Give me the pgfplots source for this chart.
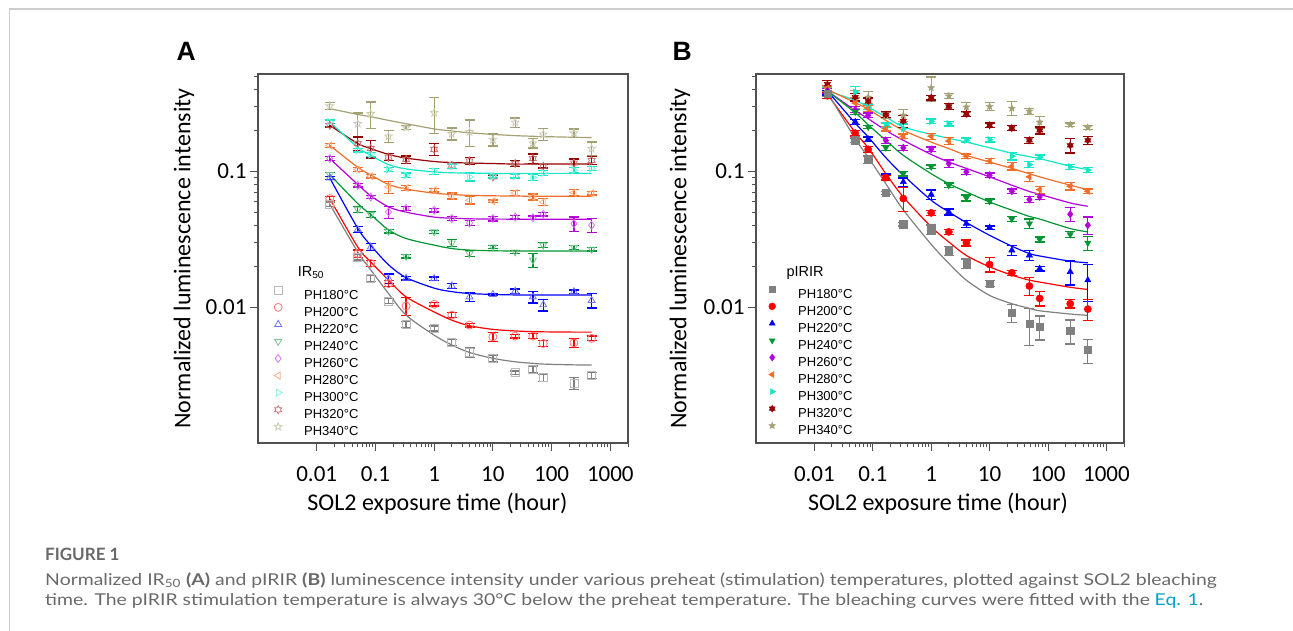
\documentclass[border=0pt]{standalone}
\usepackage{fontspec}
\setmainfont{Liberation Sans}
\newfontfamily\carlito{Carlito}
\newfontfamily\capfont[FakeStretch=1.19]{Lato}
\newfontfamily\capbold{Lato}
\usepackage{pgfplots}
\pgfplotsset{compat=1.18}
\usetikzlibrary{plotmarks}

\definecolor{c180}{RGB}{128,128,128}
\definecolor{c200}{RGB}{255,0,0}
\definecolor{c220}{RGB}{0,0,255}
\definecolor{c240}{RGB}{0,150,50}
\definecolor{c260}{RGB}{180,0,220}
\definecolor{c280}{RGB}{240,110,40}
\definecolor{c300}{RGB}{20,230,200}
\definecolor{c320}{RGB}{150,0,0}
\definecolor{c340}{RGB}{165,160,115}
\definecolor{axisgray}{RGB}{80,80,80}
\definecolor{framegray}{RGB}{205,205,205}
\definecolor{capgray}{RGB}{105,105,105}
\definecolor{eqblue}{RGB}{0,160,200}

\pgfdeclareplotmark{pstar}{%
  \pgfpathmoveto{\pgfpointpolar{90}{\pgfplotmarksize}}%
  \pgfpathlineto{\pgfpointscale{0.42}{\pgfpointpolar{126}{\pgfplotmarksize}}}%
  \pgfpathlineto{\pgfpointpolar{162}{\pgfplotmarksize}}%
  \pgfpathlineto{\pgfpointscale{0.42}{\pgfpointpolar{198}{\pgfplotmarksize}}}%
  \pgfpathlineto{\pgfpointpolar{234}{\pgfplotmarksize}}%
  \pgfpathlineto{\pgfpointscale{0.42}{\pgfpointpolar{270}{\pgfplotmarksize}}}%
  \pgfpathlineto{\pgfpointpolar{306}{\pgfplotmarksize}}%
  \pgfpathlineto{\pgfpointscale{0.42}{\pgfpointpolar{342}{\pgfplotmarksize}}}%
  \pgfpathlineto{\pgfpointpolar{18}{\pgfplotmarksize}}%
  \pgfpathlineto{\pgfpointscale{0.42}{\pgfpointpolar{54}{\pgfplotmarksize}}}%
  \pgfpathclose\pgfusepathqstroke}
\pgfdeclareplotmark{pstar*}{%
  \pgfpathmoveto{\pgfpointpolar{90}{\pgfplotmarksize}}%
  \pgfpathlineto{\pgfpointscale{0.42}{\pgfpointpolar{126}{\pgfplotmarksize}}}%
  \pgfpathlineto{\pgfpointpolar{162}{\pgfplotmarksize}}%
  \pgfpathlineto{\pgfpointscale{0.42}{\pgfpointpolar{198}{\pgfplotmarksize}}}%
  \pgfpathlineto{\pgfpointpolar{234}{\pgfplotmarksize}}%
  \pgfpathlineto{\pgfpointscale{0.42}{\pgfpointpolar{270}{\pgfplotmarksize}}}%
  \pgfpathlineto{\pgfpointpolar{306}{\pgfplotmarksize}}%
  \pgfpathlineto{\pgfpointscale{0.42}{\pgfpointpolar{342}{\pgfplotmarksize}}}%
  \pgfpathlineto{\pgfpointpolar{18}{\pgfplotmarksize}}%
  \pgfpathlineto{\pgfpointscale{0.42}{\pgfpointpolar{54}{\pgfplotmarksize}}}%
  \pgfpathclose\pgfusepathqfillstroke}
\pgfdeclareplotmark{hstar}{%
  \pgfpathmoveto{\pgfpointpolar{90}{\pgfplotmarksize}}%
  \pgfpathlineto{\pgfpointscale{0.577}{\pgfpointpolar{120}{\pgfplotmarksize}}}%
  \pgfpathlineto{\pgfpointpolar{150}{\pgfplotmarksize}}%
  \pgfpathlineto{\pgfpointscale{0.577}{\pgfpointpolar{180}{\pgfplotmarksize}}}%
  \pgfpathlineto{\pgfpointpolar{210}{\pgfplotmarksize}}%
  \pgfpathlineto{\pgfpointscale{0.577}{\pgfpointpolar{240}{\pgfplotmarksize}}}%
  \pgfpathlineto{\pgfpointpolar{270}{\pgfplotmarksize}}%
  \pgfpathlineto{\pgfpointscale{0.577}{\pgfpointpolar{300}{\pgfplotmarksize}}}%
  \pgfpathlineto{\pgfpointpolar{330}{\pgfplotmarksize}}%
  \pgfpathlineto{\pgfpointscale{0.577}{\pgfpointpolar{0}{\pgfplotmarksize}}}%
  \pgfpathlineto{\pgfpointpolar{30}{\pgfplotmarksize}}%
  \pgfpathlineto{\pgfpointscale{0.577}{\pgfpointpolar{60}{\pgfplotmarksize}}}%
  \pgfpathclose\pgfusepathqstroke}
\pgfdeclareplotmark{hstar*}{%
  \pgfpathmoveto{\pgfpointpolar{90}{\pgfplotmarksize}}%
  \pgfpathlineto{\pgfpointscale{0.577}{\pgfpointpolar{120}{\pgfplotmarksize}}}%
  \pgfpathlineto{\pgfpointpolar{150}{\pgfplotmarksize}}%
  \pgfpathlineto{\pgfpointscale{0.577}{\pgfpointpolar{180}{\pgfplotmarksize}}}%
  \pgfpathlineto{\pgfpointpolar{210}{\pgfplotmarksize}}%
  \pgfpathlineto{\pgfpointscale{0.577}{\pgfpointpolar{240}{\pgfplotmarksize}}}%
  \pgfpathlineto{\pgfpointpolar{270}{\pgfplotmarksize}}%
  \pgfpathlineto{\pgfpointscale{0.577}{\pgfpointpolar{300}{\pgfplotmarksize}}}%
  \pgfpathlineto{\pgfpointpolar{330}{\pgfplotmarksize}}%
  \pgfpathlineto{\pgfpointscale{0.577}{\pgfpointpolar{0}{\pgfplotmarksize}}}%
  \pgfpathlineto{\pgfpointpolar{30}{\pgfplotmarksize}}%
  \pgfpathlineto{\pgfpointscale{0.577}{\pgfpointpolar{60}{\pgfplotmarksize}}}%
  \pgfpathclose\pgfusepathqfillstroke}

% ---------- data: x = hours, y = normalized intensity, e = relative error, f = fitted curve
\pgfplotstableread{
x y e f
0.0167 0.0572 0.04 0.0572
0.05 0.0234 0.05 0.0255
0.0833 0.0163 0.05 0.0188
0.167 0.0111 0.04 0.0126
0.333 0.00747 0.05 0.00873
1 0.00697 0.04 0.00622
2 0.0055 0.05 0.00526
4 0.00464 0.08 0.00464
10 0.0042 0.06 0.0042
24 0.00329 0.03 0.00396
48 0.00348 0.06 0.00386
72 0.00302 0.06 0.00381
240 0.00275 0.1 0.00376
480 0.00313 0.05 0.00375
}\Aa
\pgfplotstableread{
x y e f
0.0167 0.063 0.04 0.063
0.05 0.0248 0.06 0.0277
0.0833 0.021 0.05 0.0215
0.167 0.0149 0.05 0.0158
0.333 0.0102 0.15 0.0119
1 0.0105 0.03 0.00922
2 0.00873 0.04 0.00802
4 0.00738 0.03 0.0073
10 0.00605 0.08 0.00686
24 0.00612 0.03 0.00668
48 0.00612 0.04 0.0066
72 0.0054 0.05 0.00658
240 0.00546 0.08 0.00655
480 0.00589 0.04 0.00655
}\Ab
\pgfplotstableread{
x y e f
0.0167 0.0893 0.03 0.0893
0.05 0.0373 0.05 0.038
0.0833 0.0277 0.06 0.0285
0.167 0.0162 0.08 0.0205
0.333 0.0163 0.03 0.0165
1 0.0162 0.03 0.0138
2 0.0143 0.04 0.013
4 0.0119 0.08 0.0126
10 0.0124 0.02 0.0124
24 0.0131 0.04 0.0123
48 0.0119 0.1 0.0123
72 0.0104 0.1 0.0123
240 0.013 0.03 0.0123
480 0.0112 0.12 0.0123
}\Ac
\pgfplotstableread{
x y e f
0.0167 0.0946 0.03 0.0946
0.05 0.0526 0.05 0.0578
0.0833 0.048 0.05 0.048
0.167 0.0362 0.03 0.037
0.333 0.0237 0.03 0.032
1 0.0358 0.03 0.0286
2 0.0297 0.06 0.027
4 0.0248 0.05 0.0263
10 0.0277 0.03 0.026
24 0.0255 0.03 0.0259
48 0.0222 0.12 0.0259
72 0.0286 0.04 0.0259
240 0.0275 0.03 0.0259
480 0.0267 0.03 0.0259
}\Ad
\pgfplotstableread{
x y e f
0.0167 0.124 0.03 0.124
0.05 0.0789 0.03 0.080
0.0833 0.0647 0.03 0.066
0.167 0.0502 0.1 0.0547
0.333 0.0532 0.03 0.050
1 0.0517 0.03 0.046
2 0.0449 0.03 0.0452
4 0.0417 0.04 0.0447
10 0.0449 0.04 0.0445
24 0.0461 0.03 0.0444
48 0.0455 0.03 0.0444
72 0.0483 0.03 0.0444
240 0.0412 0.12 0.0444
480 0.0401 0.12 0.0444
}\Ae
\pgfplotstableread{
x y e f
0.0167 0.155 0.03 0.155
0.05 0.103 0.03 0.107
0.0833 0.092 0.03 0.094
0.167 0.0767 0.1 0.080
0.333 0.0753 0.04 0.074
1 0.0724 0.03 0.069
2 0.0659 0.05 0.0675
4 0.0612 0.06 0.0665
10 0.0602 0.02 0.066
24 0.0693 0.04 0.0657
48 0.0647 0.05 0.0655
72 0.0594 0.06 0.0655
240 0.0697 0.05 0.0655
480 0.069 0.03 0.0655
}\Af
\pgfplotstableread{
x y e f
0.0167 0.231 0.03 0.231
0.05 0.143 0.03 0.150
0.0833 0.133 0.03 0.131
0.167 0.103 0.03 0.112
0.333 0.0935 0.04 0.104
1 0.1 0.05 0.099
2 0.109 0.04 0.0975
4 0.091 0.07 0.097
10 0.092 0.03 0.0965
24 0.092 0.03 0.0965
48 0.09 0.05 0.0965
72 0.097 0.04 0.0965
240 0.102 0.04 0.0965
480 0.105 0.03 0.0965
}\Ag
\pgfplotstableread{
x y e f
0.0167 0.218 0.03 0.218
0.05 0.16 0.12 0.16
0.0833 0.147 0.15 0.147
0.167 0.127 0.06 0.133
0.333 0.122 0.06 0.125
1 0.145 0.1 0.118
2 0.111 0.05 0.116
4 0.119 0.06 0.115
10 0.0908 0.03 0.114
24 0.114 0.05 0.113
48 0.124 0.08 0.113
72 0.109 0.03 0.113
240 0.115 0.07 0.113
480 0.12 0.07 0.113
}\Ah
\pgfplotstableread{
x y e f
0.0167 0.302 0.06 0.289
0.05 0.224 0.2 0.262
0.0833 0.265 0.22 0.252
0.167 0.181 0.1 0.237
0.333 0.21 0.03 0.224
1 0.27 0.3 0.205
2 0.189 0.1 0.198
4 0.195 0.22 0.192
10 0.171 0.1 0.187
24 0.229 0.08 0.183
48 0.161 0.08 0.181
72 0.187 0.1 0.180
240 0.191 0.07 0.178
480 0.147 0.12 0.177
}\Ai
% ---------- panel B
\pgfplotstableread{
x y e f
0.0167 0.37 0.04 0.38
0.05 0.169 0.04 0.174
0.0833 0.122 0.06 0.127
0.167 0.0693 0.03 0.081
0.333 0.0407 0.03 0.052
1 0.0373 0.08 0.029
2 0.026 0.08 0.021
4 0.0209 0.08 0.0158
10 0.0149 0.05 0.0122
24 0.00908 0.15 0.0106
48 0.0075 0.3 0.0098
72 0.00716 0.2 0.0094
240 0.0067 0.2 0.0089
480 0.00483 0.2 0.0087
}\Ba
\pgfplotstableread{
x y e f
0.0167 0.36 0.05 0.37
0.05 0.191 0.05 0.193
0.0833 0.145 0.05 0.149
0.167 0.0898 0.04 0.096
0.333 0.063 0.2 0.0647
1 0.0494 0.04 0.039
2 0.0358 0.04 0.0302
4 0.0297 0.05 0.024
10 0.0206 0.12 0.0198
24 0.0179 0.04 0.0172
48 0.0143 0.15 0.0158
72 0.0116 0.12 0.0153
240 0.0106 0.07 0.014
480 0.00967 0.18 0.0135
}\Bb
\pgfplotstableread{
x y e f
0.0167 0.38 0.04 0.39
0.05 0.231 0.04 0.226
0.0833 0.172 0.04 0.179
0.167 0.0908 0.05 0.126
0.333 0.0835 0.07 0.0935
1 0.0674 0.08 0.0612
2 0.0502 0.05 0.0502
4 0.0412 0.06 0.0419
10 0.0385 0.03 0.0338
24 0.0262 0.08 0.0281
48 0.0241 0.08 0.0248
72 0.0192 0.04 0.0238
240 0.0182 0.2 0.0218
480 0.0158 0.3 0.0212
}\Bc
\pgfplotstableread{
x y e f
0.0167 0.37 0.04 0.39
0.05 0.273 0.04 0.27
0.0833 0.212 0.03 0.22
0.167 0.149 0.04 0.169
0.333 0.0961 0.04 0.131
1 0.108 0.03 0.096
2 0.0789 0.04 0.081
4 0.0637 0.05 0.0705
10 0.0602 0.04 0.0594
24 0.0446 0.04 0.0517
48 0.0412 0.08 0.0465
72 0.0315 0.04 0.0445
240 0.0343 0.05 0.0379
480 0.0297 0.12 0.0358
}\Bd
\pgfplotstableread{
x y e f
0.0167 0.39 0.04 0.39
0.05 0.284 0.05 0.28
0.0833 0.258 0.04 0.244
0.167 0.169 0.05 0.2
0.333 0.149 0.04 0.169
1 0.145 0.04 0.133
2 0.114 0.06 0.117
4 0.0989 0.04 0.105
10 0.0935 0.04 0.091
24 0.0713 0.04 0.079
48 0.062 0.05 0.071
72 0.0648 0.04 0.0677
240 0.0483 0.12 0.0585
480 0.0401 0.15 0.0553
}\Be
\pgfplotstableread{
x y e f
0.0167 0.41 0.04 0.40
0.05 0.318 0.1 0.32
0.0833 0.289 0.05 0.287
0.167 0.206 0.04 0.237
0.333 0.181 0.04 0.2
1 0.181 0.05 0.164
2 0.167 0.06 0.147
4 0.129 0.04 0.131
10 0.119 0.04 0.117
24 0.109 0.06 0.105
48 0.091 0.08 0.096
72 0.0733 0.06 0.091
240 0.0776 0.06 0.079
480 0.0713 0.04 0.0733
}\Bf
\pgfplotstableread{
x y e f
0.0167 0.39 0.05 0.39
0.05 0.383 0.1 0.333
0.0833 0.297 0.04 0.297
0.167 0.218 0.04 0.251
0.333 0.206 0.08 0.212
1 0.233 0.04 0.187
2 0.224 0.04 0.175
4 0.169 0.04 0.164
10 0.171 0.04 0.149
24 0.129 0.06 0.136
48 0.112 0.05 0.128
72 0.127 0.04 0.124
240 0.108 0.04 0.109
480 0.102 0.04 0.103
}\Bg
\pgfplotstableread{
x y e
0.0167 0.437 0.06
0.05 0.351 0.06
0.0833 0.327 0.06
0.167 0.261 0.05
0.333 0.234 0.1
1 0.348 0.04
2 0.30 0.05
4 0.265 0.04
10 0.218 0.04
24 0.208 0.04
48 0.169 0.05
72 0.2 0.06
240 0.155 0.12
480 0.169 0.07
}\Bh
\pgfplotstableread{
x y e
0.0167 0.405 0.05
0.05 0.34 0.15
0.0833 0.351 0.1
0.167 0.258 0.05
0.333 0.258 0.1
1 0.412 0.2
2 0.358 0.04
4 0.297 0.08
10 0.30 0.07
24 0.291 0.12
48 0.277 0.05
72 0.23 0.1
240 0.22 0.03
480 0.21 0.03
}\Bi

\newcommand{\plotA}[3]{%
  \addplot[forget plot, only marks, mark size=4pt, mark options={draw=#1!55!white, fill=none, line width=0.8pt}, #2,
    error bars/y dir=both, error bars/y explicit relative,
    error bars/error bar style={#1, line width=1.3pt},
    error bars/error mark options={#1, rotate=90, mark size=5pt, line width=1.3pt}]
    table[x=x,y=y,y error=e] {#3};
  \addplot[forget plot, #1, line width=1.2pt, smooth, tension=0.5, no marks] table[x=x,y=f] {#3};}
\newcommand{\legA}[3]{\addlegendimage{only marks, mark size=4pt, mark options={draw=#1!55!white, fill=none, line width=0.8pt}, #2}\addlegendentry{#3}}
\newcommand{\plotB}[3]{%
  \addplot[forget plot, only marks, mark size=3.6pt, mark options={draw=#1, fill=#1, line width=0.5pt}, #2,
    error bars/y dir=both, error bars/y explicit relative,
    error bars/error bar style={#1, line width=1.3pt},
    error bars/error mark options={#1, rotate=90, mark size=5pt, line width=1.3pt}]
    table[x=x,y=y,y error=e] {#3};}
\newcommand{\fitB}[2]{\addplot[forget plot, #1, line width=1.2pt, smooth, tension=0.5, no marks] table[x=x,y=f] {#2};}
\newcommand{\legB}[3]{\addlegendimage{only marks, mark size=3.4pt, mark options={draw=#1, fill=#1, line width=0.5pt}, #2}\addlegendentry{#3}}

\begin{document}
\begin{tikzpicture}[x=1pt,y=1pt]
\useasboundingbox (0,0) rectangle (1293,-631);
\draw[framegray, line width=1.2pt] (9.5,-631) -- (9.5,-9) -- (1293,-9);

\node[anchor=base west, font=\bfseries\fontsize{26.5}{30}\selectfont] at (173,-61) {A};
\node[anchor=base west, font=\bfseries\fontsize{26.5}{30}\selectfont] at (669,-61) {B};

% ---------------- panel A
\begin{axis}[at={(258pt,-443pt)}, anchor=south west,
    xmode=log, ymode=log, scale only axis, width=370pt, height=369pt,
    xmin=0.001, xmax=2000, ymin=0.001, ymax=0.52,
    xtick={0.01,0.1,1,10,100,1000}, xticklabels={0.01,0.1,1,10,100,1000},
    ytick={0.01,0.1}, yticklabels={0.01,0.1},
    minor xtick={0.02,0.03,0.04,0.05,0.06,0.07,0.08,0.09,0.2,0.3,0.4,0.5,0.6,0.7,0.8,0.9,2,3,4,5,6,7,8,9,20,30,40,50,60,70,80,90,200,300,400,500,600,700,800,900,2000},
    minor ytick={0.02,0.03,0.04,0.05,0.06,0.07,0.08,0.09,0.2,0.3,0.4,0.5},
    axis line style={draw=axisgray, line width=1.3pt},
    major tick style={draw=axisgray, line width=1pt},
    minor tick style={draw=axisgray, line width=1pt},
    major tick length=8pt, minor tick length=4.5pt,
    tick align=outside, tick pos=left,
    xticklabel style={font=\carlito\fontsize{23}{27}\selectfont, yshift=-12pt},
    yticklabel style={font=\carlito\fontsize{23}{27}\selectfont},
    xlabel={SOL2 exposure time (hour)},
    ylabel={Normalized luminescence intensity},
    xlabel style={font=\carlito\fontsize{24}{28}\selectfont, at={(axis description cs:0.485,-0.1816)}, anchor=base},
    ylabel style={font=\carlito\fontsize{24}{28}\selectfont, at={(axis description cs:-0.2,0.5)}, anchor=center},
    clip=false,
    legend cell align=left,
    legend style={at={(axis description cs:0.0405,0.4263)}, anchor=north west, draw=none, fill=none, inner sep=0pt, row sep=1.05pt,
      font=\fontsize{13}{15}\selectfont,
      nodes={inner sep=2pt, text height=9.5pt, text depth=0.5pt}},
    legend image code/.code={\draw[#1] plot coordinates {(5pt,4.6pt)}; \path[draw=none, fill=none] (0pt,0pt) rectangle (29pt,9pt);}]
\legA{c180}{mark=square}{PH180°C}
\legA{c200}{mark=o}{PH200°C}
\legA{c220}{mark=triangle}{PH220°C}
\legA{c240}{mark=triangle, every mark/.append style={rotate=180}}{PH240°C}
\legA{c260}{mark=diamond}{PH260°C}
\legA{c280}{mark=triangle, every mark/.append style={rotate=90}}{PH280°C}
\legA{c300}{mark=triangle, every mark/.append style={rotate=-90}}{PH300°C}
\legA{c320}{mark=hstar}{PH320°C}
\legA{c340}{mark=pstar}{PH340°C}
\plotA{c340}{mark=pstar}{\Ai}
\plotA{c320}{mark=hstar}{\Ah}
\plotA{c300}{mark=triangle, every mark/.append style={rotate=-90}}{\Ag}
\plotA{c280}{mark=triangle, every mark/.append style={rotate=90}}{\Af}
\plotA{c260}{mark=diamond}{\Ae}
\plotA{c240}{mark=triangle, every mark/.append style={rotate=180}}{\Ad}
\plotA{c220}{mark=triangle}{\Ac}
\plotA{c200}{mark=o}{\Ab}
\plotA{c180}{mark=square}{\Aa}
\node[anchor=west, font=\fontsize{14.5}{16}\selectfont] at (axis description cs:0.098,0.4615) {IR\textsubscript{50}};
\end{axis}

% ---------------- panel B
\begin{axis}[at={(756pt,-443pt)}, anchor=south west,
    xmode=log, ymode=log, scale only axis, width=368pt, height=369pt,
    xmin=0.001, xmax=2000, ymin=0.001, ymax=0.52,
    xtick={0.01,0.1,1,10,100,1000}, xticklabels={0.01,0.1,1,10,100,1000},
    ytick={0.01,0.1}, yticklabels={0.01,0.1},
    minor xtick={0.02,0.03,0.04,0.05,0.06,0.07,0.08,0.09,0.2,0.3,0.4,0.5,0.6,0.7,0.8,0.9,2,3,4,5,6,7,8,9,20,30,40,50,60,70,80,90,200,300,400,500,600,700,800,900,2000},
    minor ytick={0.02,0.03,0.04,0.05,0.06,0.07,0.08,0.09,0.2,0.3,0.4,0.5},
    axis line style={draw=axisgray, line width=1.3pt},
    major tick style={draw=axisgray, line width=1pt},
    minor tick style={draw=axisgray, line width=1pt},
    major tick length=8pt, minor tick length=4.5pt,
    tick align=outside, tick pos=left,
    xticklabel style={font=\carlito\fontsize{23}{27}\selectfont, yshift=-12pt},
    yticklabel style={font=\carlito\fontsize{23}{27}\selectfont},
    xlabel={SOL2 exposure time (hour)},
    ylabel={Normalized luminescence intensity},
    xlabel style={font=\carlito\fontsize{24}{28}\selectfont, at={(axis description cs:0.4946,-0.1816)}, anchor=base},
    ylabel style={font=\carlito\fontsize{24}{28}\selectfont, at={(axis description cs:-0.2065,0.5)}, anchor=center},
    clip=false,
    legend cell align=left,
    legend style={at={(axis description cs:0.0299,0.429)}, anchor=north west, draw=none, fill=none, inner sep=0pt, row sep=1.05pt,
      font=\fontsize{13}{15}\selectfont,
      nodes={inner sep=2pt, text height=9.5pt, text depth=0.5pt}},
    legend image code/.code={\draw[#1] plot coordinates {(5pt,4.6pt)}; \path[draw=none, fill=none] (0pt,0pt) rectangle (29pt,9pt);}]
\legB{c180}{mark=square*}{PH180°C}
\legB{c200}{mark=*}{PH200°C}
\legB{c220}{mark=triangle*}{PH220°C}
\legB{c240}{mark=triangle*, every mark/.append style={rotate=180}}{PH240°C}
\legB{c260}{mark=diamond*}{PH260°C}
\legB{c280}{mark=triangle*, every mark/.append style={rotate=90}}{PH280°C}
\legB{c300}{mark=triangle*, every mark/.append style={rotate=-90}}{PH300°C}
\legB{c320}{mark=hstar*}{PH320°C}
\legB{c340}{mark=pstar*}{PH340°C}
\fitB{c300}{\Bg}
\fitB{c280}{\Bf}
\fitB{c260}{\Be}
\fitB{c240}{\Bd}
\fitB{c220}{\Bc}
\fitB{c200}{\Bb}
\fitB{c180}{\Ba}
\plotB{c340}{mark=pstar*}{\Bi}
\plotB{c320}{mark=hstar*}{\Bh}
\plotB{c300}{mark=triangle*, every mark/.append style={rotate=-90}}{\Bg}
\plotB{c280}{mark=triangle*, every mark/.append style={rotate=90}}{\Bf}
\plotB{c260}{mark=diamond*}{\Be}
\plotB{c240}{mark=triangle*, every mark/.append style={rotate=180}}{\Bd}
\plotB{c220}{mark=triangle*}{\Bc}
\plotB{c200}{mark=*}{\Bb}
\plotB{c180}{mark=square*}{\Ba}
\node[anchor=west, font=\fontsize{14.5}{16}\selectfont] at (axis description cs:0.0734,0.4607) {pIRIR};
\end{axis}

% ---------------- caption
\node[anchor=base west, text=capgray, font=\capbold\bfseries\fontsize{17}{20}\selectfont] at (41.7,-560) {FIGURE 1};
\node[anchor=base west, text=capgray, font=\capfont\fontsize{16.3}{19}\selectfont] at (41.7,-585.3) {Normalized IR\textsubscript{50} \textbf{(A)} and pIRIR \textbf{(B)} luminescence intensity under various preheat (stimulation) temperatures, plotted against SOL2 bleaching};
\node[anchor=base west, text=capgray, font=\capfont\fontsize{16.3}{19}\selectfont] at (41.7,-605) {time. The pIRIR stimulation temperature is always 30°C below the preheat temperature. The bleaching curves were fitted with the \textcolor{eqblue}{Eq. 1}.};
\end{tikzpicture}
\end{document}
